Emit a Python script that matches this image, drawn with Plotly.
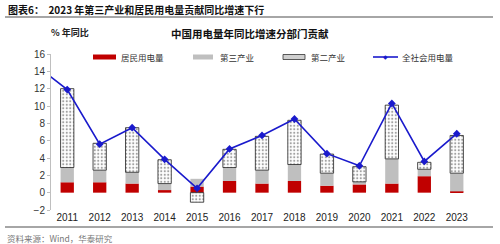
import plotly.graph_objects as go

years = list(range(2011, 2024))
residential = [1.2, 1.2, 1.05, 0.3, 0.7, 1.35, 1.05, 1.35, 0.8, 0.95, 1.05, 1.9, 0.15]
tertiary = [1.7, 1.4, 1.3, 0.75, 0.9, 1.55, 1.55, 1.9, 1.45, 0.3, 2.85, 0.8, 2.1]
secondary = [9.1, 3.1, 5.15, 2.75, -1.1, 2.1, 3.9, 5.1, 2.2, 1.75, 6.2, 0.8, 4.35]
line_years = list(range(2010, 2024))
total = [14.8, 11.9, 5.6, 7.5, 3.85, 0.5, 5.05, 6.6, 8.5, 4.5, 3.1, 10.3, 3.6, 6.8]

names = ["居民用电量", "第三产业", "第二产业", "全社会用电量"]
RED = "#C00000"
GRAY = "#BFBFBF"
BLUE = "#1A1ACC"
CJK = "Noto Sans CJK SC"
LAT = "Liberation Sans"

fig = go.Figure()
fig.add_bar(x=years, y=residential, name=names[0], marker=dict(color=RED, line=dict(width=0)), width=0.41)
fig.add_bar(x=years, y=tertiary, name=names[1], marker=dict(color=GRAY, line=dict(width=0)), width=0.41)
fig.add_bar(x=years, y=secondary, name=names[2], width=0.41,
            marker=dict(color="white", line=dict(color="#222222", width=0.8),
                        pattern=dict(shape=".", fgcolor="#444444", bgcolor="white", size=3.5, solidity=0.3)))
fig.add_scatter(x=line_years, y=total, name=names[3], mode="lines+markers",
                line=dict(color=BLUE, width=1.6),
                marker=dict(symbol="diamond", size=6, color=BLUE))

fig.update_layout(
    width=500, height=244, barmode="relative", showlegend=False,
    margin=dict(l=51, r=27, t=54, b=34),
    paper_bgcolor="white", plot_bgcolor="white",
    font=dict(family=LAT, size=10, color="#333333"),
    xaxis=dict(range=[2010.5, 2023.5], tickvals=years, ticktext=[str(y) for y in years],
               showline=False, showgrid=False, zeroline=False, ticks="",
               tickfont=dict(family=LAT, size=10, color="#222222")),
    xaxis2=dict(range=[2010.5, 2023.5], overlaying="x", anchor="free", position=2/18,
                showline=True, linecolor="#BFBFBF", linewidth=1, showgrid=False, zeroline=False,
                ticks="outside", ticklen=3, tickcolor="#BFBFBF",
                tickvals=[y + 0.5 for y in years[:-1]], showticklabels=False),
    yaxis=dict(range=[-2, 16], dtick=2, showgrid=False, zeroline=False,
               showline=True, linecolor="#BFBFBF", linewidth=1,
               ticks="outside", ticklen=3, tickcolor="#BFBFBF",
               tickfont=dict(family=LAT, size=10, color="#333333")),
)

def px(x):
    return (x - 51) / 422

def py(y):
    return (210 - y) / 156

# Header and footer
fig.add_annotation(text="<b>图表6：  2023 年第三产业和居民用电量贡献同比增速下行</b>", xref="paper", yref="paper",
                   x=px(6), y=py(10), xanchor="left", yanchor="middle", showarrow=False,
                   font=dict(family=CJK, size=10, color="#111111"))
fig.add_shape(type="line", xref="paper", yref="paper", x0=px(5), x1=px(493),
              y0=py(17), y1=py(17), line=dict(color="#A6A6A6", width=2))
fig.add_annotation(text="<b>中国用电量年同比增速分部门贡献</b>", xref="paper", yref="paper",
                   x=px(250), y=py(33), xanchor="center", yanchor="middle", showarrow=False,
                   font=dict(family=CJK, size=10.5, color="#111111"))
fig.add_annotation(text="<b>% 年同比</b>", xref="paper", yref="paper",
                   x=px(49), y=py(32), xanchor="left", yanchor="middle", showarrow=False,
                   font=dict(family=CJK, size=9, color="#222222"))
fig.add_shape(type="line", xref="paper", yref="paper", x0=px(5), x1=px(493),
              y0=py(227), y1=py(227), line=dict(color="#A6A6A6", width=2))
fig.add_annotation(text="资料来源：Wind，华泰研究", xref="paper", yref="paper",
                   x=px(5), y=py(238), xanchor="left", yanchor="middle", showarrow=False,
                   font=dict(family=CJK, size=8.5, color="#777777"))

# Manual legend
ly = py(57)
swatch_h = 2.5 / 156
fig.add_shape(type="rect", xref="paper", yref="paper", x0=px(93), x1=px(116), y0=ly - swatch_h, y1=ly + swatch_h,
              fillcolor=RED, line=dict(width=0))
fig.add_shape(type="rect", xref="paper", yref="paper", x0=px(193), x1=px(213), y0=ly - swatch_h, y1=ly + swatch_h,
              fillcolor=GRAY, line=dict(width=0))
fig.add_shape(type="rect", xref="paper", yref="paper", x0=px(283), x1=px(305), y0=ly - swatch_h, y1=ly + swatch_h,
              fillcolor="#CFCFCF", line=dict(width=0.8, color="#333333"))
fig.add_shape(type="line", xref="paper", yref="paper", x0=px(373), x1=px(398), y0=ly, y1=ly,
              line=dict(color=BLUE, width=1.6))
fig.add_annotation(text="◆", xref="paper", yref="paper", x=px(385.5), y=ly, showarrow=False,
                   font=dict(size=6, color=BLUE), xanchor="center", yanchor="middle")
for txt, x in [(names[0], 119), (names[1], 218), (names[2], 309), (names[3], 400)]:
    fig.add_annotation(text=txt, xref="paper", yref="paper", x=px(x), y=ly, xanchor="left", yanchor="middle",
                       showarrow=False, font=dict(family=CJK, size=8.5, color="#333333"))

fig.write_html("out.html")
